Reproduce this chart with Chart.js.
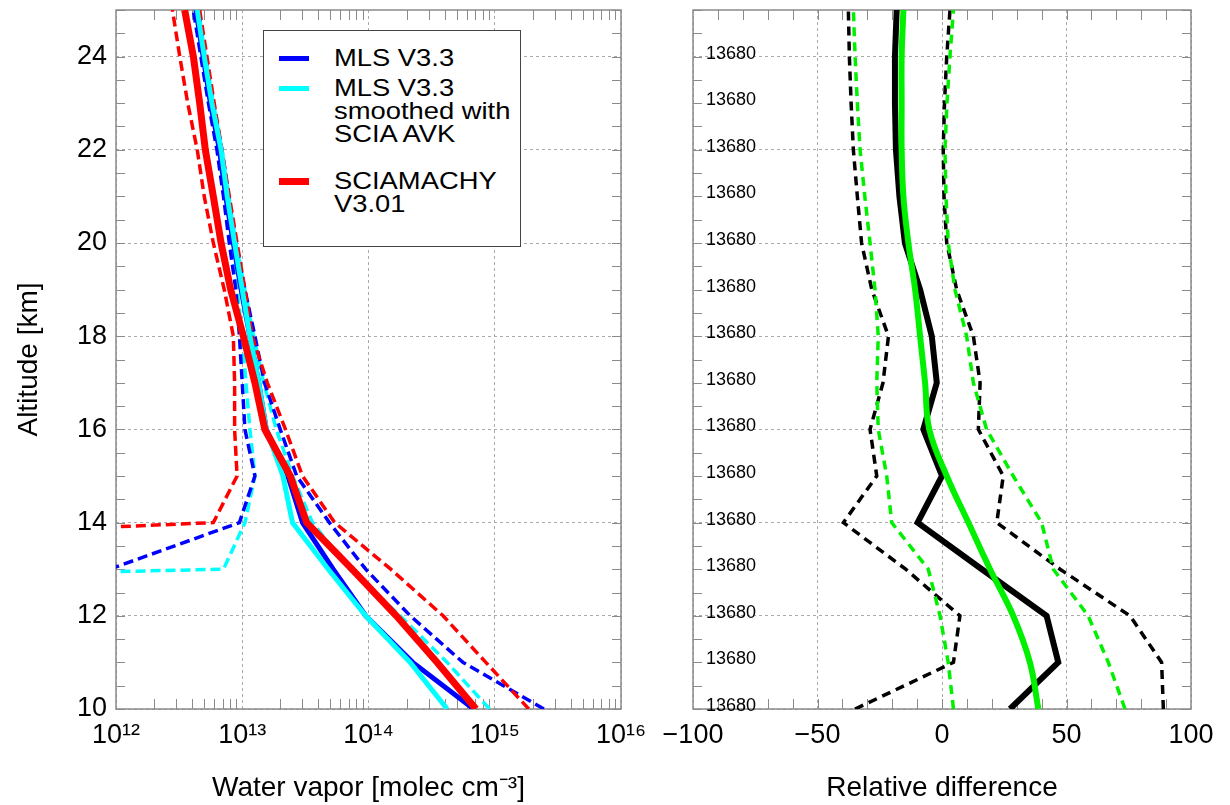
<!DOCTYPE html>
<html>
<head>
<meta charset="utf-8">
<script src="https://cdn.jsdelivr.net/npm/chart.js@4.4.1/dist/chart.umd.min.js"></script>
<style>
  body { margin: 0; background: #fff; }
  #wrap { position: relative; width: 1230px; height: 805px; font-family: "Liberation Sans", Arial, sans-serif; }
  #left { position: absolute; left: 0; top: 0; }
  #right { position: absolute; left: 640px; top: 0; }
  #legend { position: absolute; left: 263px; top: 30px; width: 256px; height: 215px;
            border: 1.5px solid #444; background: #fff; }
  #legend .sw { position: absolute; left: 15px; width: 30px; }
  #legend .tx { position: absolute; left: 70px; font-size: 24px; line-height: 23px; color: #000;
                white-space: nowrap; transform: scaleX(1.14); transform-origin: 0 0; }
</style>
</head>
<body>
<div id="wrap">
  <canvas id="left" width="660" height="805"></canvas>
  <canvas id="right" width="590" height="805"></canvas>
  <div id="legend">
    <div class="sw" style="top:25px;height:5px;background:#0000ff"></div>
    <div class="tx" style="top:15px">MLS V3.3</div>
    <div class="sw" style="top:55px;height:5px;background:#00ffff"></div>
    <div class="tx" style="top:45px">MLS V3.3<br>smoothed with<br>SCIA AVK</div>
    <div class="sw" style="top:147px;height:7px;background:#ff0000"></div>
    <div class="tx" style="top:138px">SCIAMACHY<br>V3.01</div>
  </div>
</div>
<script>
// Altitudes (km) for every profile, 10 ... 25
const altitudes = [10, 11, 12, 13, 14, 15, 16, 17, 18, 19, 20, 21, 22, 23, 24, 25];

// Water vapour number density [molec cm-3]
const sciaMean = [7.1e14, 3.5e14, 1.66e14, 7.4e13, 3.24e13, 2.4e13, 1.51e13, 1.26e13, 1.02e13, 8.1e12, 6.8e12, 5.9e12, 5.1e12, 4.6e12, 4.1e12, 3.5e12];
const sciaLow  = [null, null, null, 1.6e4, 5.9e12, 9.1e12, 8.7e12, 8.7e12, 8.5e12, 7.2e12, 5.9e12, 5.0e12, 4.4e12, 3.7e12, 3.2e12, 2.8e12];
const sciaHigh = [1.86e15, 8.5e14, 3.9e14, 1.5e14, 5.4e13, 3.0e13, 2.2e13, 1.58e13, 1.2e13, 1.05e13, 9.1e12, 7.9e12, 6.9e12, 6.0e12, 5.25e12, 4.6e12];

const mlsMean = [6.8e14, 2.24e14, 9.5e13, 5.25e13, 3.0e13, 2.3e13, 1.55e13, 1.35e13, 1.15e13, 9.8e12, 8.5e12, 7.4e12, 6.6e12, 5.6e12, 4.9e12, 4.3e12];
const mlsLow  = [null, null, null, 8.9e11, 9.5e12, 1.26e13, 1.05e13, 1.0e13, 9.5e12, 8.9e12, 7.9e12, 7.1e12, 6.3e12, 5.4e12, 4.7e12, 4.1e12];
const mlsHigh = [2.45e15, 5.6e14, 2.14e14, 9.5e13, 4.9e13, 2.7e13, 2.0e13, 1.5e13, 1.26e13, 1.05e13, 8.9e12, 7.8e12, 6.9e12, 5.9e12, 5.1e12, 4.5e12];

const mlsSmMean = [4.2e14, 2.14e14, 9.5e13, 4.8e13, 2.5e13, 2.1e13, 1.55e13, 1.35e13, 1.15e13, 1.0e13, 8.7e12, 7.6e12, 6.8e12, 5.75e12, 5.0e12, 4.4e12];
const mlsSmLow  = [null, null, 1e-4, 7.1e12, 1.05e13, 1.26e13, 1.15e13, 1.07e13, 1.0e13, 9.1e12, 8.1e12, 7.2e12, 6.5e12, 5.5e12, 4.8e12, 4.2e12];
const mlsSmHigh = [9.1e14, 4.2e14, 1.78e14, 7.1e13, 3.6e13, 2.5e13, 1.86e13, 1.48e13, 1.23e13, 1.05e13, 8.9e12, 7.8e12, 6.9e12, 5.9e12, 5.1e12, 4.5e12];

// Relative difference [%]
const diffMean = [27.3, 46.7, 42, 16, -9.8, 0, -7.5, -2.1, -4.1, -8.8, -14.9, -17.1, -18.5, -18.9, -18.9, -18.2];
const diffLow  = [-34.9, 4.6, 7.2, -14.6, -39.6, -26.2, -28.9, -23.7, -21.5, -28.2, -32.3, -34, -35.6, -36.5, -37.2, -37.6];
const diffHigh = [88.9, 88.2, 75.5, 47.4, 22, 24.6, 14.6, 15.3, 12.6, 5.9, 1.9, 0.8, 0.5, 1.0, 1.9, 3.2];
const diffSm     = [38.7, 35.3, 28.6, 19.3, 10.6, 1.9, -5.1, -6.8, -8.8, -10.8, -13.5, -15.5, -16.2, -16.2, -16.2, -15.5];
const diffSmLow  = [4.6, 2.5, -0.8, -5.5, -20.2, -22.2, -25.6, -26.2, -25.6, -26.9, -28.9, -31, -32.9, -34, -34.9, -35.6];
const diffSmHigh = [73.5, 66.8, 58.7, 44.7, 40, 28.6, 17.9, 12.6, 9.9, 5.2, 2.5, 1.6, 1.2, 2.0, 3.2, 4.6];

// Number of coincidences printed at each altitude
const countAlts = [10, 11, 12, 13, 14, 15, 16, 17, 18, 19, 20, 21, 22, 23, 24];
const counts = [13680, 13680, 13680, 13680, 13680, 13680, 13680, 13680, 13680, 13680, 13680, 13680, 13680, 13680, 13680];

// Axis ticks
const yMajor = [10, 12, 14, 16, 18, 20, 22, 24];
const xDecades = [1e12, 1e13, 1e14, 1e15, 1e16];
const xDiffTicks = [-100, -50, 0, 50, 100];

const FONT = '"Liberation Sans", Arial, sans-serif';
Chart.defaults.font.family = FONT;
Chart.defaults.color = '#000';

function profile(values) {
  return values.map((v, i) => ({ x: v, y: altitudes[i] }));
}

function sup(n) {
  const d = '⁰¹²³⁴⁵⁶⁷⁸⁹';
  return String(n).split('').map(c => d[+c]).join('');
}

const yMinor = [];
for (let v = 10; v <= 25; v += 0.5) yMinor.push(v);
const xLogMinor = [];
for (let e = 12; e < 16; e++) for (let k = 2; k <= 9; k++) xLogMinor.push(k * Math.pow(10, e));
const xLinMinor = [];
for (let v = -90; v < 100; v += 10) xLinMinor.push(v);

// Marco y marcas menores hacia dentro, estilo IDL
const framePlugin = {
  id: 'frame',
  beforeDatasetsDraw(chart, args, opts) {
    const { ctx, chartArea: a, scales: { x, y } } = chart;
    ctx.save();
    ctx.strokeStyle = '#8a8a8a';
    ctx.lineWidth = 1;
    ctx.beginPath();
    yMinor.forEach(v => {
      const py = Math.round(y.getPixelForValue(v)) + 0.5;
      ctx.moveTo(a.left, py); ctx.lineTo(a.left + 9, py);
      ctx.moveTo(a.right, py); ctx.lineTo(a.right - 9, py);
    });
    opts.xMinor.forEach(v => {
      const px = Math.round(x.getPixelForValue(v)) + 0.5;
      ctx.moveTo(px, a.bottom); ctx.lineTo(px, a.bottom - 10);
      ctx.moveTo(px, a.top); ctx.lineTo(px, a.top + 10);
    });
    ctx.stroke();
    ctx.lineWidth = 1.5;
    ctx.strokeRect(a.left, a.top, a.right - a.left, a.bottom - a.top);
    ctx.restore();
  }
};

const countsPlugin = {
  id: 'counts',
  afterDatasetsDraw(chart) {
    const { ctx, chartArea: a, scales: { y } } = chart;
    ctx.save();
    ctx.font = '18px ' + FONT;
    ctx.fillStyle = '#000';
    ctx.textBaseline = 'alphabetic';
    countAlts.forEach((alt, i) => {
      ctx.fillText(String(counts[i]), a.left + 13, y.getPixelForValue(alt) + 2);
    });
    ctx.restore();
  }
};

function line(data, color, width, dash, order, extra) {
  return Object.assign({
    data: profile(data), borderColor: color, borderWidth: width,
    borderDash: dash || [], pointRadius: 0, fill: false, tension: 0,
    spanGaps: false, order: order
  }, extra || {});
}

function yAxis(width, showLabels) {
  return {
    type: 'linear', min: 10, max: 25,
    afterBuildTicks: s => { s.ticks = yMajor.map(v => ({ value: v })); },
    afterFit: s => { s.width = width; s.paddingTop = 0; s.paddingBottom = 0; },
    ticks: { display: showLabels, font: { size: 27 }, color: '#000', padding: 9 },
    grid: { color: '#aaaaaa', lineWidth: 1, drawTicks: false },
    border: { display: false, dash: [3, 3] },
    title: { display: showLabels, text: 'Altitude [km]', font: { size: 28 }, color: '#000', padding: { top: 12, bottom: 0 } }
  };
}

function xAxisFit(s) {
  s.height = 96; s.paddingLeft = 0; s.paddingRight = 0;
}

new Chart(document.getElementById('left'), {
  type: 'line',
  data: {
    datasets: [
      line(sciaMean, '#ff0000', 7, null, 0),
      line(mlsSmMean, '#00ffff', 5, null, 1),
      line(mlsMean, '#0000ff', 5, null, 2),
      line(sciaLow, '#ff0000', 3.5, [10, 5], 3),
      line(sciaHigh, '#ff0000', 3.5, [10, 5], 3),
      line(mlsLow, '#0000ff', 3.5, [10, 5], 4),
      line(mlsHigh, '#0000ff', 3.5, [10, 5], 4),
      line(mlsSmLow, '#00ffff', 3.5, [10, 5], 5),
      line(mlsSmHigh, '#00ffff', 3.5, [10, 5], 5)
    ]
  },
  options: {
    responsive: false, animation: false, events: [],
    layout: { padding: { top: 10, right: 39, left: 0, bottom: 0 } },
    plugins: { legend: { display: false }, tooltip: { enabled: false }, frame: { xMinor: xLogMinor } },
    scales: {
      x: {
        type: 'logarithmic', min: 1e12, max: 1e16,
        afterBuildTicks: s => { s.ticks = xDecades.map(v => ({ value: v })); },
        afterFit: xAxisFit,
        ticks: {
          callback: v => '10' + sup(Math.round(Math.log10(v))),
          font: { size: 27 }, color: '#000', padding: 10, maxRotation: 0, autoSkip: false
        },
        grid: { color: '#aaaaaa', lineWidth: 1, drawTicks: false },
        border: { display: false, dash: [3, 3] },
        title: { display: true, text: 'Water vapor [molec cm⁻³]', font: { size: 28 }, color: '#000', padding: { top: 0, bottom: 0 } }
      },
      y: yAxis(116, true)
    }
  },
  plugins: [framePlugin]
});

new Chart(document.getElementById('right'), {
  type: 'line',
  data: {
    datasets: [
      line(diffSm, '#00f000', 6, null, 0, { tension: 0.4 }),
      line(diffMean, '#000000', 6, null, 1),
      line(diffSmLow, '#00f000', 3.5, [9, 6], 2),
      line(diffSmHigh, '#00f000', 3.5, [9, 6], 2),
      line(diffLow, '#000000', 3.5, [9, 6], 3),
      line(diffHigh, '#000000', 3.5, [9, 6], 3)
    ]
  },
  options: {
    responsive: false, animation: false, events: [],
    layout: { padding: { top: 10, right: 39, left: 0, bottom: 0 } },
    plugins: { legend: { display: false }, tooltip: { enabled: false }, frame: { xMinor: xLinMinor } },
    scales: {
      x: {
        type: 'linear', min: -100, max: 100,
        afterBuildTicks: s => { s.ticks = xDiffTicks.map(v => ({ value: v })); },
        afterFit: xAxisFit,
        ticks: {
          callback: v => (v < 0 ? '\u2212' + Math.abs(v) : String(v)),
          font: { size: 27 }, color: '#000', padding: 10, maxRotation: 0, autoSkip: false
        },
        grid: { color: '#aaaaaa', lineWidth: 1, drawTicks: false },
        border: { display: false, dash: [3, 3] },
        title: { display: true, text: 'Relative difference', font: { size: 28 }, color: '#000', padding: { top: 0, bottom: 0 } }
      },
      y: yAxis(53, false)
    }
  },
  plugins: [framePlugin, countsPlugin]
});
</script>
</body>
</html>
